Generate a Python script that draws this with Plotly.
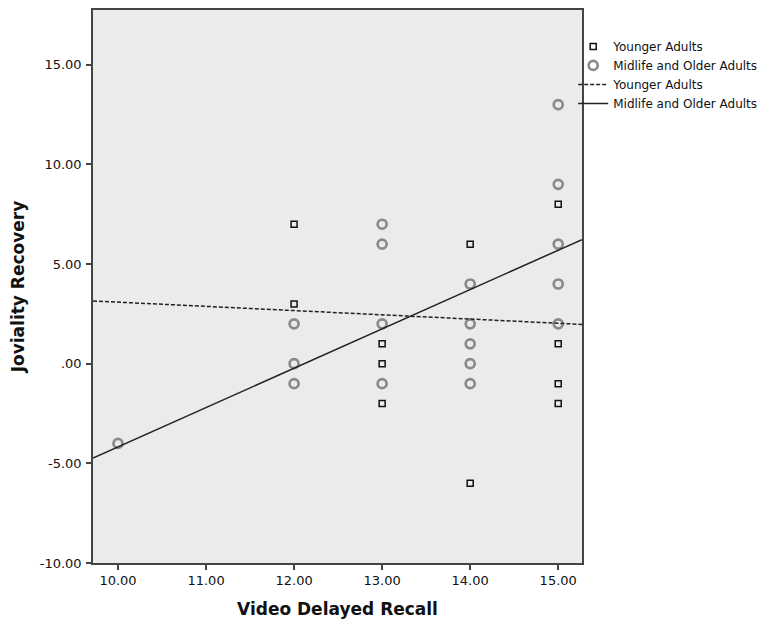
import plotly.graph_objects as go

# ---- data ----
young_x = [12, 12, 13, 13, 13, 14, 14, 15, 15, 15, 15]
young_y = [7, 3, 1, 0, -2, 6, -6, 8, 1, -1, -2]
older_x = [10, 12, 12, 12, 13, 13, 13, 13, 14, 14, 14, 14, 14, 15, 15, 15, 15, 15]
older_y = [-4, 2, 0, -1, 7, 6, 2, -1, 4, 2, 1, 0, -1, 13, 9, 6, 4, 2]

# linear fit lines (intercept, slope)
young_fit = [5.21, -0.212]
older_fit = [-23.9, 1.973]

x_range = [9.716, 15.27]
y_range = [-10, 17.75]
x_ticks = [10, 11, 12, 13, 14, 15]
x_tick_text = ["10.00", "11.00", "12.00", "13.00", "14.00", "15.00"]
y_ticks = [15, 10, 5, 0, -5, -10]
y_tick_text = ["15.00", "10.00", "5.00", ".00", "-5.00", "-10.00"]

FONT = "DejaVu Sans"

fig = go.Figure()
fig.add_trace(go.Scatter(
    x=young_x, y=young_y, mode="markers", name="Younger Adults",
    marker=dict(symbol="square-open", size=6, color="#111111", line=dict(width=1.5)),
))
fig.add_trace(go.Scatter(
    x=older_x, y=older_y, mode="markers", name="Midlife and Older Adults",
    marker=dict(symbol="circle-open", size=9, color="#8a8a8a", line=dict(width=2.7)),
))
fig.add_trace(go.Scatter(
    x=x_range, y=[young_fit[0] + young_fit[1] * v for v in x_range],
    mode="lines", name="Younger Adults",
    line=dict(color="#222222", width=1.5, dash="4px,2px"),
))
fig.add_trace(go.Scatter(
    x=x_range, y=[older_fit[0] + older_fit[1] * v for v in x_range],
    mode="lines", name="Midlife and Older Adults",
    line=dict(color="#222222", width=1.5),
))

fig.update_layout(
    width=764, height=612,
    margin=dict(l=85, r=190, t=0, b=57),
    paper_bgcolor="white", plot_bgcolor="#ebebeb",
    font=dict(family=FONT, size=13, color="#111111"),
    showlegend=True,
    legend=dict(
        x=0.982, xanchor="left", y=0.9604, yanchor="top",
        bgcolor="rgba(0,0,0,0)", font=dict(size=12, family=FONT),
        itemwidth=30, tracegroupgap=0,
    ),
    xaxis=dict(
        range=x_range, tickvals=x_ticks, ticktext=x_tick_text,
        showgrid=False, zeroline=False,
        showline=True, mirror=True, linecolor="#444444", linewidth=1.5,
        ticks="outside", ticklen=5, tickcolor="#444444", tickwidth=1.5,
        title=dict(text="<b>Video Delayed Recall</b>", font=dict(size=17, family=FONT), standoff=16),
    ),
    yaxis=dict(
        range=y_range, tickvals=y_ticks, ticktext=y_tick_text,
        showgrid=False, zeroline=False,
        showline=True, mirror=True, linecolor="#444444", linewidth=1.5,
        ticks="outside", ticklen=5, tickcolor="#444444", tickwidth=1.5,
        ticklabelstandoff=2,
        title=dict(text="<b>Joviality Recovery</b>", font=dict(size=17, family=FONT), standoff=14),
    ),
)

fig.write_html("out.html")
